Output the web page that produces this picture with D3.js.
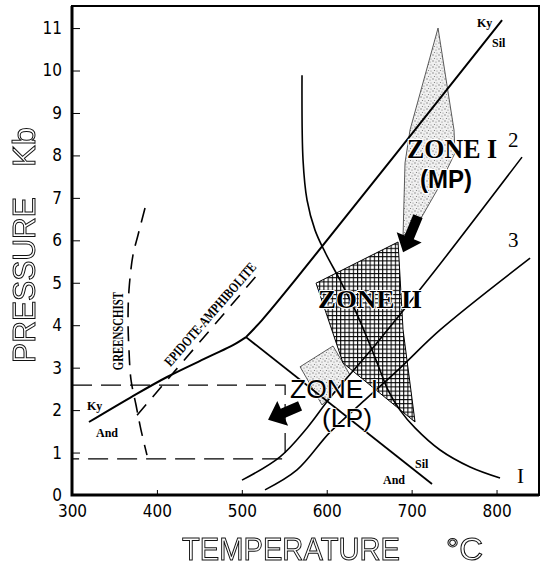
<!DOCTYPE html>
<html><head><meta charset="utf-8">
<script src="https://cdn.jsdelivr.net/npm/d3@7"></script>
<style>
html,body{margin:0;padding:0;background:#fff;}
svg{display:block;}
</style></head><body>
<svg id="chart" width="544" height="572"></svg>
<script>
// Axis ticks
const xTicks = [300, 400, 500, 600, 700, 800];
const yTicks = [0, 1, 2, 3, 4, 5, 6, 7, 8, 9, 10, 11];

// Aluminosilicate reactions [T °C, P kb]
const kyAnd = [[320, 1.72], [368.3, 2.29], [411.9, 2.78], [462.5, 3.27], [489.6, 3.53], [504.9, 3.72]];
const kySil = [[504.9, 3.72], [523.8, 4.12], [562.7, 5.06], [806.5, 11.19]];
const andSil = [[504.9, 3.72], [724.0, 0.26]];

// Curves 1, 2, 3
const curve1 = [[570.9, 9.89], [572.1, 7.89], [576.8, 6.95], [586.2, 6.24], [598.0, 5.72], [615.7, 5.06],
  [633.3, 4.36], [648.6, 3.65], [660.4, 3.06], [672.2, 2.47], [686.3, 2.00], [704.0, 1.58],
  [733.5, 1.06], [768.8, 0.66], [804.1, 0.40]];
const curve2 = [[830.0, 7.96], [721.7, 5.14], [656.9, 3.53], [603.9, 2.29], [576.8, 1.58], [545.0, 0.90], [500.2, 0.35]];
const curve3 = [[839.5, 5.58], [733.5, 3.89], [686.3, 2.99], [645.1, 2.24], [603.9, 1.48], [565.0, 0.59], [527.3, 0.12]];

// Facies boundaries (dashed)
const greenschist = [[386.0, 6.76], [377.7, 6.12], [371.8, 5.65], [367.1, 4.83], [366.0, 4.12], [367.1, 3.42],
  [369.5, 2.71], [375.4, 2.12], [381.3, 1.53], [388.3, 0.94]];
const epidoteAmph = [[376.6, 1.88], [517.9, 5.18]];
const boxT = [300, 551];
const boxP = [0.85, 2.59];

// Zones
const zoneI = [[731.1, 11.0], [749.9, 8.60], [751.1, 8.06], [729.9, 7.18], [709.9, 6.48], [689.9, 6.10], [692.2, 7.82], [698.1, 8.60]];
const zoneII = [[587.4, 4.99], [684.0, 5.96], [689.9, 3.89], [704.0, 1.72], [619.2, 3.11]];
const zoneIII = [[568.6, 3.02], [607.4, 3.51], [627.4, 2.83], [594.5, 2.12]];

// Arrows [tail, tip]
const arrows = [
  [[707.5, 6.57], [689.9, 5.72]],
  [[568.6, 2.10], [530.9, 1.77]]
];

// Labels [text, T, P]
const smallLabels = [["Ky", 777, 11.02], ["Sil", 794.7, 10.55], ["Ky", 317.7, 2.0], ["And", 328.3, 1.37],
  ["Sil", 704, 0.64], ["And", 666.3, 0.26]];
const curveLabels = [["2", 813.5, 8.20], ["3", 813.5, 5.84], ["I", 824.1, 0.28]];

const svg = d3.select("#chart");
const x = d3.scaleLinear().domain([300, 850]).range([72, 539]);
const y = d3.scaleLinear().domain([0, 11.52]).range([495, 6]);

const defs = svg.append("defs");
const stip = defs.append("pattern").attr("id", "stipple").attr("patternUnits", "userSpaceOnUse")
  .attr("width", 6).attr("height", 6);
stip.append("rect").attr("width", 6).attr("height", 6).attr("fill", "#f0f0f0");
[[1, 1, 0.7], [4, 2, 0.6], [2.5, 4.5, 0.6], [5, 5, 0.5]].forEach(([cx, cy, r]) =>
  stip.append("circle").attr("cx", cx).attr("cy", cy).attr("r", r).attr("fill", "#777"));
const grid = defs.append("pattern").attr("id", "grid").attr("patternUnits", "userSpaceOnUse")
  .attr("width", 4.2).attr("height", 4.2);
grid.append("rect").attr("width", 4.2).attr("height", 4.2).attr("fill", "#fff");
grid.append("path").attr("d", "M0 0.5H4.2M0.5 0V4.2").attr("stroke", "#000").attr("stroke-width", 1.1);
// grayscale rasterisation for the outlined titles
defs.append("filter").attr("id", "flat").append("feOffset").attr("dx", 0).attr("dy", 0);

const line = d3.line().x(d => x(d[0])).y(d => y(d[1]));
const smooth = d3.line().x(d => x(d[0])).y(d => y(d[1])).curve(d3.curveCatmullRom.alpha(0.5));
const poly = pts => "M" + pts.map(d => x(d[0]) + "," + y(d[1])).join("L") + "Z";

// Zone fills
svg.append("path").attr("d", poly(zoneI)).attr("fill", "url(#stipple)").attr("stroke", "#333").attr("stroke-width", 0.8);
svg.append("path").attr("d", poly(zoneIII)).attr("fill", "url(#stipple)").attr("stroke", "#333").attr("stroke-width", 0.8);
svg.append("path").attr("d", poly(zoneII)).attr("fill", "url(#grid)").attr("stroke", "#000").attr("stroke-width", 1);

// Solid reaction lines
const solid = svg.append("g").attr("fill", "none").attr("stroke", "#000");
solid.append("path").attr("d", smooth(kyAnd)).attr("stroke-width", 2);
solid.append("path").attr("d", smooth(kySil)).attr("stroke-width", 2);
solid.append("path").attr("d", line(andSil)).attr("stroke-width", 1.8);
solid.append("path").attr("d", smooth(curve1)).attr("stroke-width", 1.6);
solid.append("path").attr("d", smooth(curve2)).attr("stroke-width", 1.6);
solid.append("path").attr("d", smooth(curve3)).attr("stroke-width", 1.6);

// Dashed facies boundaries
const dashed = svg.append("g").attr("fill", "none").attr("stroke", "#000");
dashed.append("path").attr("d", smooth(greenschist)).attr("stroke-width", 1.6).attr("stroke-dasharray", "15,9");
dashed.append("path").attr("d", line(epidoteAmph)).attr("stroke-width", 1.6).attr("stroke-dasharray", "14,10");
dashed.append("path")
  .attr("d", `M${x(boxT[0])},${y(boxP[1])}H${x(boxT[1])}V${y(boxP[0])}H${x(boxT[0])}`)
  .attr("stroke-width", 1.2).attr("stroke-dasharray", "20,9");

// Arrows
arrows.forEach(([tail, tip]) => {
  const tx = x(tail[0]), ty = y(tail[1]), px = x(tip[0]), py = y(tip[1]);
  const len = Math.hypot(px - tx, py - ty);
  const ux = (px - tx) / len, uy = (py - ty) / len, nx = -uy, ny = ux;
  const sw = 5, hw = 13.5, hl = 16;
  const bx = px - ux * hl, by = py - uy * hl;
  const pts = [[tx + nx * sw, ty + ny * sw], [bx + nx * sw, by + ny * sw], [bx + nx * hw, by + ny * hw], [px, py],
    [bx - nx * hw, by - ny * hw], [bx - nx * sw, by - ny * sw], [tx - nx * sw, ty - ny * sw]];
  svg.append("path").attr("d", "M" + pts.map(p => p.join(",")).join("L") + "Z").attr("fill", "#000");
});

// Facies names
svg.append("text").text("GREENSCHIST")
  .attr("transform", `translate(${x(353.5)},${y(3.86)}) rotate(-90)`)
  .attr("text-anchor", "middle").attr("dy", "0.35em")
  .attr("font-family", "Liberation Serif, serif").attr("font-weight", "bold").attr("font-size", 15)
  .attr("textLength", 78).attr("lengthAdjust", "spacingAndGlyphs");
svg.append("text").text("EPIDOTE-AMPHIBOLITE")
  .attr("transform", `translate(${x(462.5)},${y(4.26)}) rotate(-49)`)
  .attr("text-anchor", "middle").attr("dy", "0.35em")
  .attr("font-family", "Liberation Serif, serif").attr("font-weight", "bold").attr("font-size", 14)
  .attr("textLength", 132).attr("lengthAdjust", "spacingAndGlyphs");

// Mineral labels
svg.append("g").selectAll("text").data(smallLabels).join("text")
  .attr("x", d => x(d[1])).attr("y", d => y(d[2])).text(d => d[0])
  .attr("font-family", "Liberation Serif, serif").attr("font-weight", "bold").attr("font-size", 12);
svg.append("g").selectAll("text").data(curveLabels).join("text")
  .attr("x", d => x(d[1])).attr("y", d => y(d[2])).text(d => d[0])
  .attr("font-family", "Liberation Serif, serif").attr("font-size", 21);

// Zone labels
function zoneText(t, T, P, opts) {
  return svg.append("text").text(t).attr("x", x(T)).attr("y", y(P))
    .attr("font-family", opts.family).attr("font-weight", opts.weight).attr("font-size", opts.size)
    .attr("fill", "#000").attr("stroke", "#fff").attr("stroke-width", opts.halo)
    .attr("paint-order", "stroke").attr("stroke-linejoin", "round")
    .attr("textLength", opts.len).attr("lengthAdjust", "spacingAndGlyphs");
}
zoneText("ZONE I", 694.6, 7.94, {family: "Liberation Serif, serif", weight: "bold", size: 27, halo: 2.5, len: 90});
zoneText("(MP)", 709.9, 7.23, {family: "Liberation Sans, Arial, sans-serif", weight: "bold", size: 26, halo: 2.5, len: 52});
zoneText("ZONE II", 589.8, 4.41, {family: "Liberation Serif, serif", weight: "bold", size: 26, halo: 2, len: 104});
zoneText("ZONE I", 556.8, 2.28, {family: "Liberation Sans, Arial, sans-serif", weight: "normal", size: 26, halo: 1.5, len: 88});
zoneText("(LP)", 594.5, 1.60, {family: "Liberation Sans, Arial, sans-serif", weight: "normal", size: 25, halo: 1.5, len: 50});

// Axes
const tickFont = "Liberation Sans Narrow, DejaVu Sans Condensed, sans-serif";
const gx = svg.append("g").attr("transform", `translate(0,${y(0)})`)
  .call(d3.axisBottom(x).tickValues(xTicks).tickSizeInner(-5).tickSizeOuter(0).tickPadding(10));
const gy = svg.append("g").attr("transform", `translate(${x(300)},0)`)
  .call(d3.axisLeft(y).tickValues(yTicks).tickSizeInner(-8).tickSizeOuter(0).tickPadding(10).tickFormat(d3.format("d")));
[gx, gy].forEach(g => {
  g.select(".domain").remove();
  g.selectAll("line").attr("stroke", "#000").attr("stroke-width", 1);
  g.selectAll("text").attr("font-family", tickFont).attr("font-size", 17).attr("fill", "#000");
});

// Frame
svg.append("rect").attr("x", x(300)).attr("y", y(11.52)).attr("width", x(850) - x(300)).attr("height", y(0) - y(11.52))
  .attr("fill", "none").attr("stroke", "#000").attr("stroke-width", 2);
svg.append("path").attr("d", `M${x(300)},${y(11.52)}V${y(0)}H${x(850)}`)
  .attr("fill", "none").attr("stroke", "#000").attr("stroke-width", 3);

// Axis titles (outlined lettering)
const titles = svg.append("g").attr("filter", "url(#flat)");
const outline = sel => sel.attr("fill", "#fff").attr("stroke", "#111").attr("stroke-width", 1)
  .attr("font-family", "Liberation Sans, Arial, sans-serif").attr("font-size", 31);
titles.append("text").text("PRESSURE").call(outline)
  .attr("transform", "translate(35,363) rotate(-90)")
  .attr("textLength", 166).attr("lengthAdjust", "spacingAndGlyphs");
titles.append("text").text("Kb").call(outline)
  .attr("transform", "translate(35,167) rotate(-90)")
  .attr("textLength", 40).attr("lengthAdjust", "spacingAndGlyphs");
titles.append("text").text("TEMPERATURE").call(outline)
  .attr("x", 182).attr("y", 560)
  .attr("textLength", 218).attr("lengthAdjust", "spacingAndGlyphs");
titles.append("text").text("°C").call(outline)
  .attr("x", 446).attr("y", 560)
  .attr("textLength", 37).attr("lengthAdjust", "spacingAndGlyphs");
</script>
</body></html>
